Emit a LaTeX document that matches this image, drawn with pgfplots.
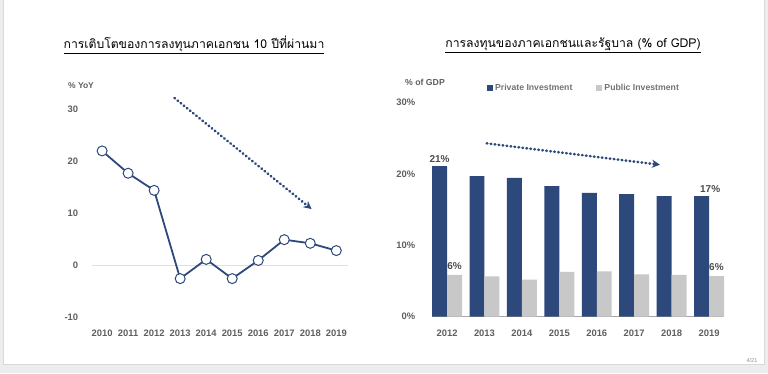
\documentclass[border=0pt]{standalone}
\usepackage{fontspec}
\setmainfont{Liberation Sans}
\newfontfamily\thai[Script=Thai]{Loma}
\usepackage{pgfplots}
\pgfplotsset{compat=1.18}
\usetikzlibrary{arrows.meta}
\definecolor{navy}{RGB}{45,73,124}
\definecolor{lgray}{RGB}{200,200,200}
\definecolor{tickc}{RGB}{95,95,95}
\tikzset{trend/.style={navy, line width=2.6pt, line cap=round, dash pattern=on 0.6pt off 3.4pt, -{Stealth[length=8pt,width=8pt]}}}
\begin{document}
\begin{tikzpicture}[x=1pt,y=1pt]
\path[use as bounding box] (0,0) rectangle (768,373);
\fill[black!7] (0,0) rectangle (768,373);
\fill[white] (3,9) rectangle (764,373);
\draw[black!15,line width=0.8pt] (3,9) -- (3,373);
\draw[black!15,line width=0.8pt] (3,9) -- (764,9) -- (764,373);
% titles
\node[text=black] at (194,328) {\thai\fontsize{12.2}{14}\selectfont\underline{การเติบโตของการลงทุนภาคเอกชน 10 ปีที่ผ่านมา}};
\node[text=black] at (573,328) {\thai\fontsize{12.2}{14}\selectfont\underline{การลงทุนของภาคเอกชนและรัฐบาล (\% of GDP)}};
\node[text=tickc,font=\bfseries\fontsize{8.5}{10}\selectfont] at (81,287) {\% YoY};
\node[text=tickc,font=\bfseries\fontsize{8.7}{10}\selectfont] at (425,291) {\% of GDP};
\node[text=black!45,font=\fontsize{5.5}{6}\selectfont] at (752,12) {4/21};

\begin{axis}[
  at={(91.7pt,56pt)}, anchor=south west, scale only axis,
  width=256.3pt, height=207.6pt,
  xmin=2009.6, xmax=2019.45, ymin=-10, ymax=30,
  axis line style={draw=none}, major tick length=0pt,
  xtick={2010,2011,...,2019}, ytick={-10,0,10,20,30},
  /pgf/number format/assume math mode=true,
  /pgf/number format/1000 sep={},
  ticklabel style={text=tickc,font=\bfseries\fontsize{9.4}{11}\selectfont},
  yticklabel style={xshift=-10pt},
  xticklabel style={yshift=-9pt},
  clip=false,
]
\addplot[black!12, line width=0.8pt, forget plot] coordinates {(2009.6,0) (2019.45,0)};
\addplot[navy, line width=1.8pt, mark=*, mark size=5pt, mark options={fill=white, draw=navy, line width=1pt}]
 coordinates {(2010,22.0) (2011,17.7) (2012,14.4) (2013,-2.6) (2014,1.1) (2015,-2.6) (2016,0.9) (2017,4.9) (2018,4.2) (2019,2.8)};
\draw[trend] (axis cs:2012.78,32.2) -- (axis cs:2018.05,10.8);
\end{axis}

\begin{axis}[
  at={(431.7pt,56.3pt)}, anchor=south west, scale only axis,
  width=292.3pt, height=214pt,
  xmin=2011.59, xmax=2019.4, ymin=0, ymax=30,
  axis line style={draw=none}, major tick length=0pt,
  xtick={2012,2013,...,2019}, ytick={0,10,20,30},
  yticklabel={\pgfmathprintnumber{\tick}\%},
  /pgf/number format/assume math mode=true,
  /pgf/number format/1000 sep={},
  ticklabel style={text=tickc,font=\bfseries\fontsize{9.4}{11}\selectfont},
  yticklabel style={xshift=-13pt},
  xticklabel style={yshift=-10pt},
  clip=false,
  legend style={at={(0.521,1.07)}, anchor=center, draw=none, fill=none,
    legend columns=2, font=\bfseries\fontsize{8.7}{10}\selectfont, text=black!55,
    /tikz/every even column/.append style={column sep=22pt}},
]
\addplot[black!35, line width=0.8pt, forget plot] coordinates {(2011.59,0) (2019.4,0)};
\addplot[ybar, bar width=0.4, bar shift=-0.2, fill=navy, draw=none,
  legend image code/.code={\fill[navy] (0pt,-3pt) rectangle (6pt,3pt);}]
 coordinates {(2012,21.1) (2013,19.7) (2014,19.45) (2015,18.3) (2016,17.35) (2017,17.2) (2018,16.9) (2019,16.9)};
\addplot[ybar, bar width=0.4, bar shift=0.2, fill=lgray, draw=none,
  legend image code/.code={\fill[lgray] (0pt,-3pt) rectangle (6pt,3pt);}]
 coordinates {(2012,5.85) (2013,5.65) (2014,5.2) (2015,6.27) (2016,6.35) (2017,5.95) (2018,5.85) (2019,5.7)};
\legend{Private Investment, Public Investment}
\node[anchor=south, text=black!70, font=\bfseries\fontsize{10}{11}\selectfont] at (axis cs:2011.8,21.1) {21\%};
\node[anchor=south, text=black!70, font=\bfseries\fontsize{10}{11}\selectfont] at (axis cs:2019.03,16.9) {17\%};
\node[anchor=south west, inner sep=0pt, yshift=5pt, text=black!70, font=\bfseries\fontsize{10}{11}\selectfont] at (axis cs:2012,5.85) {6\%};
\node[anchor=south west, inner sep=0pt, yshift=5pt, text=black!70, font=\bfseries\fontsize{10}{11}\selectfont] at (axis cs:2019,5.7) {6\%};
\draw[trend] (axis cs:2013.06,24.3) -- (axis cs:2017.69,21.3);
\end{axis}
\end{tikzpicture}
\end{document}
